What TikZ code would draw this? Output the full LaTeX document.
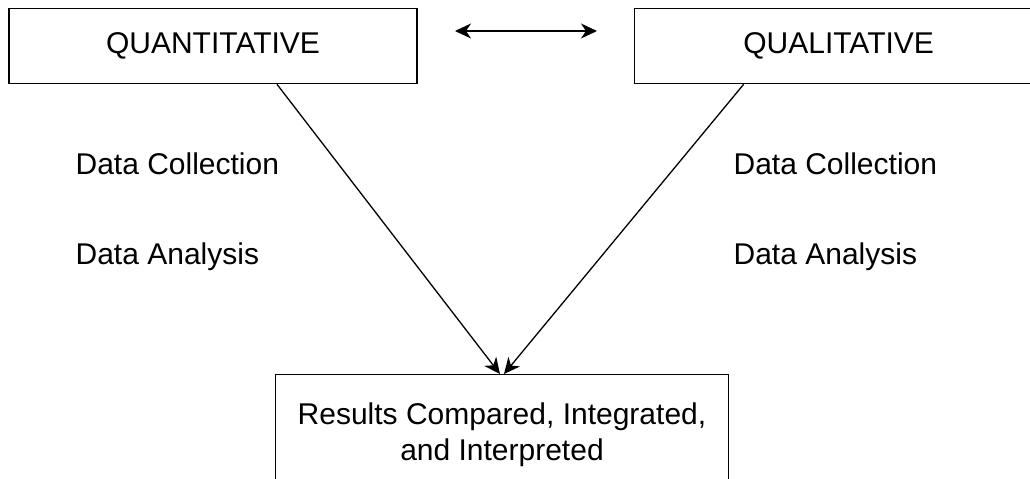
\documentclass[tikz,border=0pt]{standalone}
\usepackage{fontspec}
\setmainfont{Liberation Sans}
\usetikzlibrary{arrows.meta, positioning}

\begin{document}
\begin{tikzpicture}[
    x=0.5pt, y=-0.5pt,
    >={Stealth[length=8pt, width=7.5pt, inset=2.5pt]},
    line width=0.65pt,
    font=\fontsize{15}{18}\selectfont,
    method/.style={draw, minimum width=204pt, minimum height=37.5pt, inner sep=0pt},
    stagetext/.style={anchor=base west, inner sep=0pt},
]
    \useasboundingbox (0,0) rectangle (1030,478);
    \clip (0,0) rectangle (1030,478);

    \node[method, anchor=north]      (quan) at (213,8) {QUANTITATIVE};
    \node[method, anchor=north west] (qual) at (634,8) {QUALITATIVE};
    \node[draw, anchor=north, minimum width=226.5pt, minimum height=60.5pt, align=center]
        (res) at (502,374) {Results Compared, Integrated,\\ and Interpreted};

    \node[stagetext]                                        (dcl) at (75,174) {Data Collection};
    \node[stagetext, below=45pt of dcl.base west, anchor=base west] (dal) {Data Analysis};
    \node[stagetext]                                        (dcr) at (733,174) {Data Collection};
    \node[stagetext, below=45pt of dcr.base west, anchor=base west] (dar) {Data Analysis};

    \coordinate (lt) at (455,31);
    \coordinate (rt) at (597,31);

    \draw[<->] (lt) -- (rt);
    \draw[->] ([xshift=32pt]quan.south) -- ([xshift=-1pt]res.north);
    \draw[->] ([xshift=-47.5pt]qual.south) -- ([xshift=1pt]res.north);
\end{tikzpicture}
\end{document}
